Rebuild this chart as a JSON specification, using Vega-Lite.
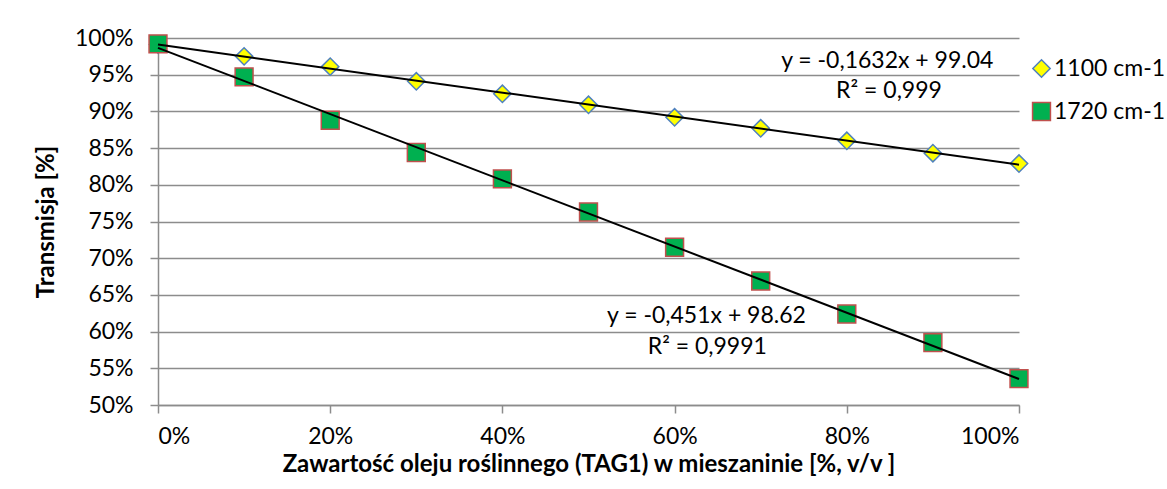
{
  "$schema": "https://vega.github.io/schema/vega-lite/v6.json",
  "autosize": "none",
  "width": 861,
  "height": 367,
  "padding": {"left": 158, "top": 38, "right": 148, "bottom": 84},
  "background": "white",
  "config": {
    "font": "Lato",
    "view": {"stroke": null},
    "axis": {
      "labelFont": "Lato", "titleFont": "Lato",
      "labelFontSize": 23, "titleFontSize": 24, "titleFontWeight": "bold",
      "labelColor": "#000", "titleColor": "#000",
      "domainColor": "#8c8c8c", "tickColor": "#8c8c8c", "gridColor": "#8c8c8c",
      "domainWidth": 1.5, "tickWidth": 1.5, "gridWidth": 1.5,
      "labelOverlap": false
    }
  },
  "datasets": {
    "pts": [
      {"x": 0.0, "y": 0.991, "s": "1100 cm-1"},
      {"x": 0.1, "y": 0.975, "s": "1100 cm-1"},
      {"x": 0.2, "y": 0.961, "s": "1100 cm-1"},
      {"x": 0.3, "y": 0.941, "s": "1100 cm-1"},
      {"x": 0.4, "y": 0.924, "s": "1100 cm-1"},
      {"x": 0.5, "y": 0.909, "s": "1100 cm-1"},
      {"x": 0.6, "y": 0.892, "s": "1100 cm-1"},
      {"x": 0.7, "y": 0.877, "s": "1100 cm-1"},
      {"x": 0.8, "y": 0.860, "s": "1100 cm-1"},
      {"x": 0.9, "y": 0.843, "s": "1100 cm-1"},
      {"x": 1.0, "y": 0.829, "s": "1100 cm-1"},
      {"x": 0.0, "y": 0.992, "s": "1720 cm-1"},
      {"x": 0.1, "y": 0.947, "s": "1720 cm-1"},
      {"x": 0.2, "y": 0.888, "s": "1720 cm-1"},
      {"x": 0.3, "y": 0.844, "s": "1720 cm-1"},
      {"x": 0.4, "y": 0.808, "s": "1720 cm-1"},
      {"x": 0.5, "y": 0.763, "s": "1720 cm-1"},
      {"x": 0.6, "y": 0.715, "s": "1720 cm-1"},
      {"x": 0.7, "y": 0.669, "s": "1720 cm-1"},
      {"x": 0.8, "y": 0.624, "s": "1720 cm-1"},
      {"x": 0.9, "y": 0.585, "s": "1720 cm-1"},
      {"x": 1.0, "y": 0.536, "s": "1720 cm-1"}
    ],
    "labels": [
      {"x": 0.847, "y": 0.968, "t": "y = -0,1632x + 99.04"},
      {"x": 0.849, "y": 0.928, "t": "R² = 0,999"},
      {"x": 0.637, "y": 0.621, "t": "y = -0,451x + 98.62"},
      {"x": 0.638, "y": 0.579, "t": "R² = 0,9991"}
    ]
  },
  "layer": [
    {
      "data": {"name": "pts"},
      "mark": {"type": "point", "filled": true, "strokeWidth": 1.5, "opacity": 1},
      "encoding": {
        "x": {
          "field": "x", "type": "quantitative",
          "scale": {"domain": [0, 1], "nice": false},
          "axis": {
            "values": [0, 0.2, 0.4, 0.6, 0.8, 1.0], "format": ".0%",
            "grid": false, "tickSize": 8, "labelPadding": 12,
            "title": "Zawartość oleju roślinnego (TAG1) w mieszaninie [%, v/v ]",
            "titlePadding": 4
          }
        },
        "y": {
          "field": "y", "type": "quantitative",
          "scale": {"domain": [0.5, 1], "nice": false, "zero": false},
          "axis": {
            "values": [0.5, 0.55, 0.6, 0.65, 0.7, 0.75, 0.8, 0.85, 0.9, 0.95, 1.0],
            "tickCount": 11, "labelOverlap": false,
            "format": ".0%", "grid": true, "tickSize": 8, "labelPadding": 17,
            "title": "Transmisja [%]", "titleX": -100
          }
        },
        "shape": {
          "field": "s", "type": "nominal",
          "scale": {"domain": ["1100 cm-1", "1720 cm-1"], "range": ["diamond", "square"]},
          "legend": {
            "title": null, "orient": "none", "legendX": 872, "legendY": 19,
            "labelFontSize": 23, "labelFont": "Lato", "labelColor": "#000",
            "rowPadding": 18, "labelOffset": 1, "symbolStrokeWidth": 1.5
          }
        },
        "fill": {
          "field": "s", "type": "nominal",
          "scale": {"domain": ["1100 cm-1", "1720 cm-1"], "range": ["#FFFF00", "#00B050"]}
        },
        "stroke": {
          "field": "s", "type": "nominal",
          "scale": {"domain": ["1100 cm-1", "1720 cm-1"], "range": ["#4F81BD", "#C0504D"]}
        },
        "size": {
          "field": "s", "type": "nominal",
          "scale": {"domain": ["1100 cm-1", "1720 cm-1"], "range": [300, 320]}
        }
      }
    },
    {
      "data": {"name": "pts"},
      "transform": [{"regression": "y", "on": "x", "groupby": ["s"], "method": "linear", "extent": [0, 1]}],
      "mark": {"type": "line", "color": "#000", "strokeWidth": 2},
      "encoding": {
        "x": {"field": "x", "type": "quantitative"},
        "y": {"field": "y", "type": "quantitative"},
        "detail": {"field": "s", "type": "nominal"}
      }
    },
    {
      "data": {"name": "labels"},
      "mark": {"type": "text", "font": "Lato", "fontSize": 23, "color": "#000", "align": "center", "baseline": "middle"},
      "encoding": {
        "x": {"field": "x", "type": "quantitative"},
        "y": {"field": "y", "type": "quantitative"},
        "text": {"field": "t"}
      }
    }
  ]
}
